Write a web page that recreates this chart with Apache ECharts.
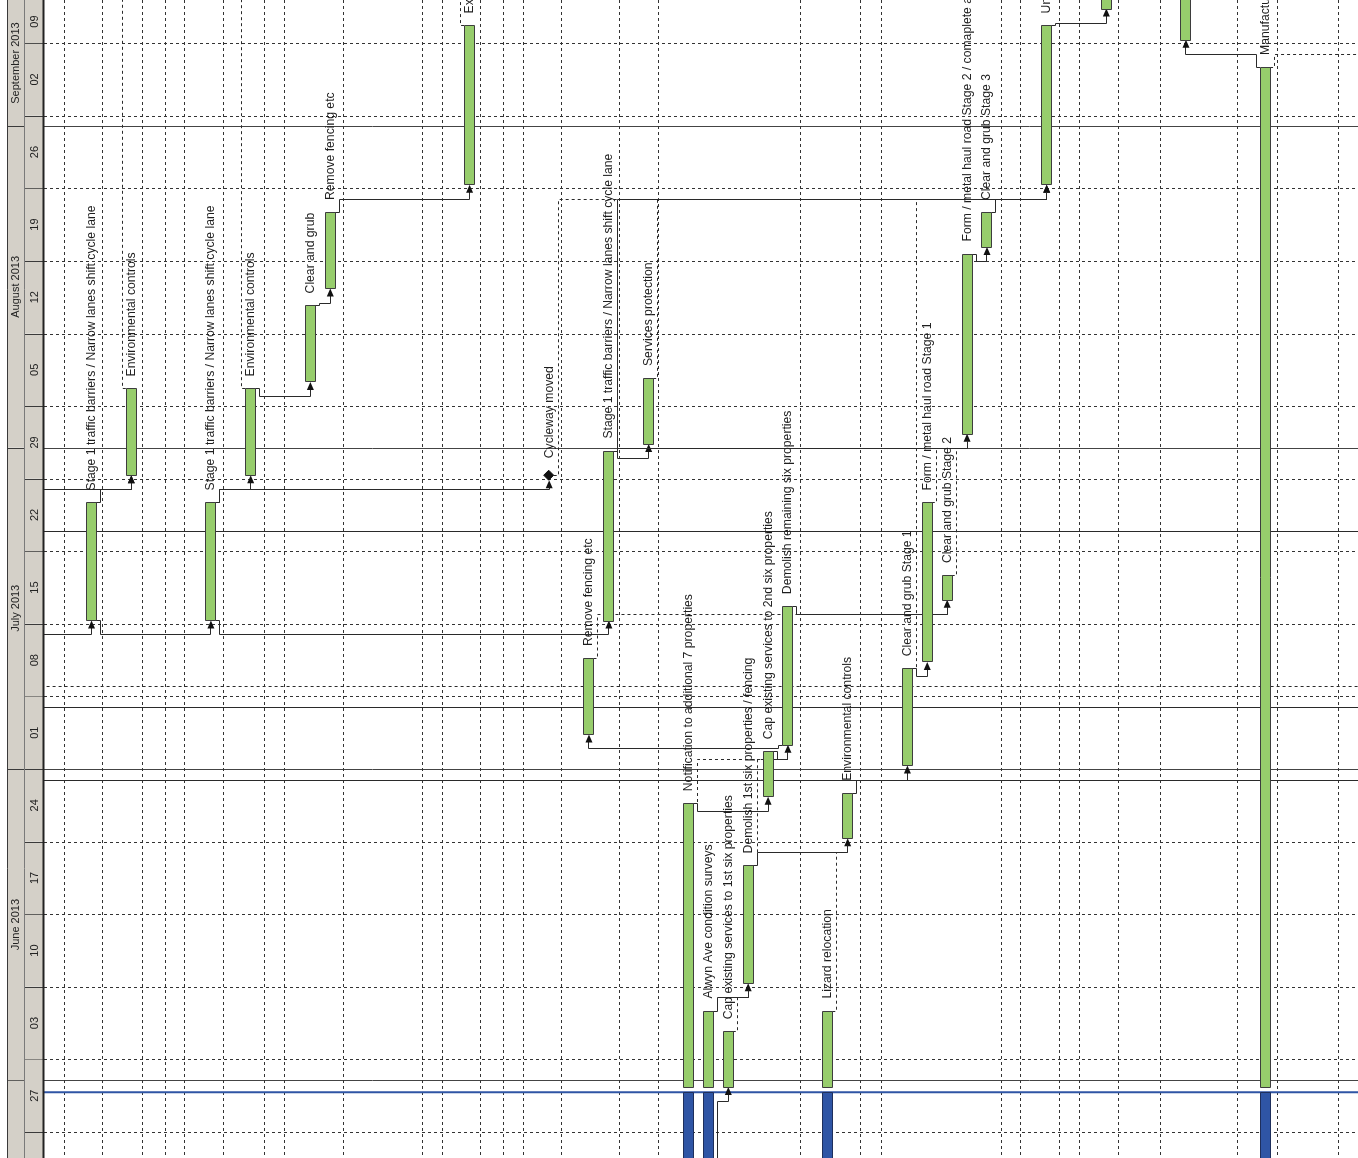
<!DOCTYPE html>
<html><head><meta charset="utf-8">
<script src="https://cdn.jsdelivr.net/npm/echarts/dist/echarts.min.js"></script>
<style>html,body{margin:0;padding:0;background:#fff}#c{width:1358px;height:1158px}</style>
</head><body><div id="c"></div>
<script>
// ---------- data ----------
const taskRows = [0, 2, 6, 8, 11, 12, 19, 23, 25, 26, 28, 30, 31, 32, 33, 34, 35, 37, 38, 41, 42, 43, 44, 45, 48, 51, 55, 59,
  -6, 70, 70, 70, 70, 70, -6];
const taskNames = [
  'Stage 1 traffic barriers / Narrow lanes shift cycle lane',
  'Environmental controls',
  'Stage 1 traffic barriers / Narrow lanes shift cycle lane',
  'Environmental controls',
  'Clear and grub',
  'Remove fencing etc',
  'Excavate',
  'Cycleway moved',
  'Remove fencing etc',
  'Stage 1 traffic barriers / Narrow lanes shift cycle lane',
  'Services protection',
  'Notification to additional 7 properties',
  'Alwyn Ave condition surveys',
  'Cap existing services to 1st six properties',
  'Demolish 1st six properties / fencing',
  'Cap existing services to 2nd six properties',
  'Demolish remaining six properties',
  'Lizard relocation',
  'Environmental controls',
  'Clear and grub Stage 1',
  'Form / metal haul road Stage 1',
  'Clear and grub Stage 2',
  'Form / metal haul road Stage 2 / comaplete access',
  'Clear and grub Stage 3',
  'Underground services',
  '', '',
  'Manufacture',
  '', '', '', '', '', '', ''];
const taskKinds = ['bar','bar','bar','bar','bar','bar','bar','milestone','bar','bar','bar','bar','bar','bar','bar','bar','bar','bar','bar','bar','bar','bar','bar','bar','bar','bar','bar','bar',
  'ghost','ghost','ghost','ghost','ghost','ghost','ghost'];
const taskStarts = ['2013-07-15 08:00','2013-07-29 08:00','2013-07-15 08:00','2013-07-29 08:00','2013-08-07 08:00','2013-08-16 08:00',
  '2013-08-26 08:00','2013-07-29 08:00','2013-07-04 08:00','2013-07-15 08:00','2013-08-01 08:00','2013-05-13 08:00','2013-05-13 08:00',
  '2013-05-31 08:00','2013-06-10 08:00','2013-06-28 08:00','2013-07-03 08:00','2013-05-13 08:00','2013-06-24 08:00','2013-07-01 08:00',
  '2013-07-11 08:00','2013-07-17 08:00','2013-08-02 08:00','2013-08-20 08:00','2013-08-26 08:00','2013-09-12 08:00','2013-09-09 08:00',
  '2013-05-13 08:00',
  '2013-05-20 08:00','2013-07-08 08:00','2013-07-01 08:00','2013-07-25 08:00','2013-09-09 08:00','2013-07-10 08:00','2013-09-23 08:00'];
const taskEnds = ['2013-07-26 17:00','2013-08-06 17:00','2013-07-26 17:00','2013-08-06 17:00','2013-08-14 17:00','2013-08-23 17:00',
  '2013-09-10 17:00','2013-07-29 08:00','2013-07-11 17:00','2013-07-31 17:00','2013-08-07 17:00','2013-06-27 17:00','2013-06-07 17:00',
  '2013-06-05 17:00','2013-06-21 17:00','2013-07-02 17:00','2013-07-16 17:00','2013-06-07 17:00','2013-06-28 17:00','2013-07-10 17:00',
  '2013-07-26 17:00','2013-07-19 17:00','2013-08-19 17:00','2013-08-23 17:00','2013-09-10 17:00','2013-09-20 17:00','2013-09-20 17:00',
  '2013-09-06 17:00',
  '2013-05-24 17:00','2013-07-12 17:00','2013-07-05 17:00','2013-07-31 17:00','2013-09-13 17:00','2013-07-12 17:00','2013-09-27 17:00'];
// progress (completed part shown in blue up to the status date)
const doneTasks = [11, 12, 17, 27];
const statusDate = '2013-05-30 20:00';
const resumeDate = '2013-05-31 08:00';
// links: predecessor, successor, type, dashed (non-driving)
const linkFrom   = [28, 28, 0, 0, 2, 2, 2, 3, 4, 5, 9, 9, 23, 24, 27, 16, 11, 12, 12, 14, 15, 16, 18, 19, 22, 28, 28, 28, 9,
                    7, 8, 10, 13, 11, 14, 17, 19, 20, 21, 27, 28, 1, 3, 6];
const linkTo     = [0, 1, 1, 2, 3, 7, 9, 4, 5, 6, 10, 22, 24, 25, 26, 8, 15, 14, 13, 18, 16, 21, 19, 20, 23, 29, 30, 31, 24,
                    24, 21, 24, 14, 16, 16, 18, 24, 22, 22, 32, 33, 34, 34, 34];
const linkType   = ['FS','FS','FS','SS','FS','FS','SS','FS','FS','FS','FS','FS','FS','FS','FS','SS','FS','FS','SS','FS','FS','FS','FS','FS','FS','FS','FS','FS','FS',
                    'FS','FS','FS','FS','FS','FS','FS','FS','FS','FS','FS','FS','FS','FS','FS'];
const linkDashed = [0,0,0,0,0,0,0,0,0,0,0,0,0,0,0,0,0,0,0,0,0,0,0,0,0,0,0,0,0,
                    1,1,1,1,1,1,1,1,1,1,1,1,1,1,1];
// time scale header
const monthStarts = ['2013-05-01','2013-06-01','2013-07-01','2013-08-01','2013-09-01','2013-10-01'];
const monthLabels = ['', 'June 2013', 'July 2013', 'August 2013', 'September 2013'];
const weekStarts = ['2013-05-20','2013-05-27','2013-06-03','2013-06-10','2013-06-17','2013-06-24','2013-07-01','2013-07-08',
  '2013-07-15','2013-07-22','2013-07-29','2013-08-05','2013-08-12','2013-08-19','2013-08-26','2013-09-02','2013-09-09','2013-09-16'];
const weekLabels = ['20','27','03','10','17','24','01','08','15','22','29','05','12','19','26','02','09'];
// dashed guide columns (row positions)
const guideRows = [-1.36, 0.55, 2.56, 3.72, 4.67, 6.63, 8.69, 9.70, 12.66, 16.63, 17.64, 19.55, 20.70, 21.71, 23.62, 26.53, 28.49,
  35.63, 38.64, 39.70, 45.73, 46.68, 48.64, 49.65, 51.61, 53.72, 57.59, 59.60, 62.66];
// view window
const viewStart = '2013-05-24 11:50', viewEnd = '2013-09-13 03:50';
const rowMin = -2.362, rowMax = 63.67;

// ---------- helpers ----------
const toTs = s => { const [d, t = '00:00'] = s.split(' '); const [Y, M, D] = d.split('-').map(Number); const [h, m] = t.split(':').map(Number); return Date.UTC(Y, M - 1, D, h, m); };
const T_MIN = toTs(viewStart), T_MAX = toTs(viewEnd);
const FONT = '12.2px "Liberation Sans", Arial, sans-serif';
const BAR_W = 10;
const GREEN = '#97cd6c', BLUE = '#2f55a5', EDGE = '#3d3d3d', LINE = '#2a2a2a';

// ---------- render functions ----------
function renderGrid(params, api) {
  const cs = params.coordSys;
  const kind = api.value(0), v = api.value(1);
  if (kind === 0) {
    const p = api.coord([rowMin, v]);
    return { type: 'line', shape: { x1: cs.x, y1: Math.round(p[1]) + 0.5, x2: cs.x + cs.width, y2: Math.round(p[1]) + 0.5 },
      style: { stroke: '#333', lineWidth: 1, lineDash: [3, 3] } };
  }
  if (kind === 1) {
    const p = api.coord([rowMin, v]);
    return { type: 'line', shape: { x1: cs.x, y1: Math.round(p[1]) + 0.5, x2: cs.x + cs.width, y2: Math.round(p[1]) + 0.5 },
      style: { stroke: '#444', lineWidth: 1 } };
  }
  const p = api.coord([v, T_MIN]);
  return { type: 'line', shape: { x1: Math.round(p[0]) + 0.5, y1: cs.y, x2: Math.round(p[0]) + 0.5, y2: cs.y + cs.height },
    style: { stroke: '#333', lineWidth: 1, lineDash: [3, 3] } };
}

function renderStatus(params, api) {
  const cs = params.coordSys;
  const p = api.coord([rowMin, api.value(0)]);
  return { type: 'line', shape: { x1: cs.x, y1: p[1], x2: cs.x + cs.width, y2: p[1] }, style: { stroke: BLUE, lineWidth: 2 } };
}

function renderLink(params, api) {
  const i = params.dataIndex;
  const a = linkFrom[i], b = linkTo[i];
  const sign = taskRows[b] > taskRows[a] ? 1 : -1;
  const anchorT = linkType[i] === 'SS' ? toTs(taskStarts[a]) : toTs(taskEnds[a]);
  const pa = api.coord([taskRows[a], anchorT]);
  const pb = api.coord([taskRows[b], toTs(taskStarts[b])]);
  const isMs = taskKinds[b] === 'milestone';
  const tipY = pb[1] + (isMs ? 5 : 0);
  const level = pb[1] + 14;
  const xEdge = pa[0] + sign * (taskKinds[a] === 'milestone' ? 5 : BAR_W / 2);
  const xExit = pa[0] + sign * (BAR_W / 2 + 4);
  const r = v => Math.round(v) + 0.5;
  const pts = [[xEdge, r(pa[1])], [r(xExit), r(pa[1])], [r(xExit), r(level)], [r(pb[0]), r(level)], [r(pb[0]), tipY + 7]];
  const style = { stroke: LINE, lineWidth: 1, fill: null };
  if (linkDashed[i]) style.lineDash = [3, 3];
  const children = [{ type: 'polyline', shape: { points: pts }, style: style }];
  if (!linkDashed[i]) {
    children.push({ type: 'polygon', shape: { points: [[pb[0] + 0.5, tipY], [pb[0] - 3, tipY + 8], [pb[0] + 4, tipY + 8]] },
      style: { fill: '#111', stroke: null } });
  }
  return { type: 'group', children: children };
}

function renderTask(params, api) {
  const i = params.dataIndex;
  if (taskKinds[i] === 'ghost') return null;
  const row = taskRows[i];
  const pEnd = api.coord([row, toTs(taskEnds[i])]);
  const children = [];
  let topY;
  if (taskKinds[i] === 'milestone') {
    const c = api.coord([row, toTs(taskStarts[i])]);
    children.push({ type: 'polygon', shape: { points: [[c[0], c[1] - 5], [c[0] + 5, c[1]], [c[0], c[1] + 5], [c[0] - 5, c[1]]] },
      style: { fill: '#111', stroke: '#111' } });
    topY = c[1] - 5;
  } else {
    const isDone = doneTasks.indexOf(i) >= 0;
    const gStart = isDone ? toTs(resumeDate) : toTs(taskStarts[i]);
    const pStart = api.coord([row, gStart]);
    const x = Math.round(pEnd[0] - BAR_W / 2) + 0.5;
    children.push({ type: 'rect', shape: { x: x, y: Math.round(pEnd[1]) + 0.5, width: BAR_W, height: Math.round(pStart[1] - pEnd[1]) },
      style: { fill: GREEN, stroke: EDGE, lineWidth: 1 } });
    if (isDone) {
      const d0 = api.coord([row, toTs(taskStarts[i])]);
      const d1 = api.coord([row, toTs(statusDate)]);
      children.push({ type: 'rect', shape: { x: x, y: Math.round(d1[1]) + 0.5, width: BAR_W, height: Math.round(d0[1] - d1[1]) },
        style: { fill: BLUE, stroke: '#1e2f5c', lineWidth: 1 } });
    }
    topY = pEnd[1];
  }
  if (taskNames[i]) {
    children.push({ type: 'text', x: Math.round(pEnd[0]) + 1, y: topY - 12, rotation: Math.PI / 2,
      style: { text: taskNames[i], font: FONT, fill: '#1e1e1e', align: 'left', verticalAlign: 'middle' } });
  }
  return { type: 'group', children: children };
}

// header: month column 0..17, week column 17..37
const headerCols = [], headerT0 = [], headerT1 = [], headerText = [];
for (let i = 0; i < monthLabels.length; i++) { headerCols.push(0); headerT0.push(toTs(monthStarts[i])); headerT1.push(toTs(monthStarts[i + 1])); headerText.push(monthLabels[i]); }
for (let i = 0; i < weekLabels.length; i++) { headerCols.push(1); headerT0.push(toTs(weekStarts[i])); headerT1.push(toTs(weekStarts[i + 1])); headerText.push(weekLabels[i]); }
const colEdges = [[0, 17], [17, 37]];

function renderHeader(params, api) {
  const i = params.dataIndex;
  const cs = params.coordSys;
  const ce = colEdges[headerCols[i]];
  const pTop = api.coord([ce[0], headerT1[i]]);
  const pBot = api.coord([ce[1], headerT0[i]]);
  const y0 = Math.max(pTop[1], cs.y), y1 = Math.min(pBot[1], cs.y + cs.height);
  if (y1 <= y0) return null;
  const children = [
    { type: 'rect', shape: { x: pTop[0], y: y0, width: pBot[0] - pTop[0], height: y1 - y0 }, style: { fill: '#d4d0c8' } }
  ];
  if (pTop[1] >= cs.y) {
    children.push({ type: 'line', shape: { x1: pTop[0], y1: Math.round(pTop[1]) + 0.5, x2: pBot[0], y2: Math.round(pTop[1]) + 0.5 },
      style: { stroke: '#3a3a3a', lineWidth: 1 } });
  }
  if (headerText[i] && (y1 - y0) > 30) {
    children.push({ type: 'text', x: (pTop[0] + pBot[0]) / 2 + 0.5, y: (y0 + y1) / 2, rotation: Math.PI / 2,
      style: { text: headerText[i], font: '11px "Liberation Sans", Arial, sans-serif', fill: '#222', align: 'center', verticalAlign: 'middle' } });
  }
  return { type: 'group', children: children };
}
function renderHeaderFrame(params, api) {
  const cs = params.coordSys;
  const pMid = api.coord([17, T_MIN]);
  return { type: 'group', children: [
    { type: 'line', shape: { x1: cs.x + 0.5, y1: cs.y, x2: cs.x + 0.5, y2: cs.y + cs.height }, style: { stroke: '#3a3a3a', lineWidth: 1 } },
    { type: 'line', shape: { x1: Math.round(pMid[0]) + 0.5, y1: cs.y, x2: Math.round(pMid[0]) + 0.5, y2: cs.y + cs.height }, style: { stroke: '#7a7a7a', lineWidth: 1 } },
    { type: 'line', shape: { x1: cs.x + cs.width - 0.5, y1: cs.y, x2: cs.x + cs.width - 0.5, y2: cs.y + cs.height }, style: { stroke: '#222', lineWidth: 2 } }
  ] };
}

// ---------- option ----------
const gridData = [];
weekStarts.forEach(w => gridData.push([0, toTs(w)]));
monthStarts.forEach(m => gridData.push([1, toTs(m)]));
guideRows.forEach(g => gridData.push([2, g]));

const chart = echarts.init(document.getElementById('c'), null, { renderer: 'canvas' });
chart.setOption({
  animation: false,
  backgroundColor: '#ffffff',
  grid: [{ left: 44, right: 0, top: 0, bottom: 0 }, { left: 7, width: 37, top: 0, bottom: 0 }],
  xAxis: [
    { type: 'value', gridIndex: 0, min: rowMin, max: rowMax, show: false, splitLine: { show: false } },
    { type: 'value', gridIndex: 1, min: 0, max: 37, show: false, splitLine: { show: false } }
  ],
  yAxis: [
    { type: 'value', gridIndex: 0, min: T_MIN, max: T_MAX, show: false, splitLine: { show: false } },
    { type: 'value', gridIndex: 1, min: T_MIN, max: T_MAX, show: false, splitLine: { show: false } }
  ],
  series: [
    { type: 'custom', xAxisIndex: 0, yAxisIndex: 0, clip: true, z: 1, silent: true, renderItem: renderGrid,
      data: gridData.map(d => ({ value: d })) },
    { type: 'custom', xAxisIndex: 0, yAxisIndex: 0, clip: true, z: 2, silent: true, renderItem: renderStatus,
      data: [[toTs(statusDate)]] },
    { type: 'custom', xAxisIndex: 0, yAxisIndex: 0, clip: true, z: 3, silent: true, renderItem: renderLink,
      data: linkFrom.map((f, i) => [i]) },
    { type: 'custom', xAxisIndex: 0, yAxisIndex: 0, clip: true, z: 4, silent: true, renderItem: renderTask,
      data: taskRows.map((r, i) => [r, toTs(taskStarts[i]), toTs(taskEnds[i])]) },
    { type: 'custom', xAxisIndex: 1, yAxisIndex: 1, clip: true, z: 5, silent: true, renderItem: renderHeader,
      data: headerCols.map((c, i) => [c, headerT0[i], headerT1[i]]) },
    { type: 'custom', xAxisIndex: 1, yAxisIndex: 1, clip: false, z: 6, silent: true, renderItem: renderHeaderFrame,
      data: [[0]] }
  ]
});
</script>
</body></html>
